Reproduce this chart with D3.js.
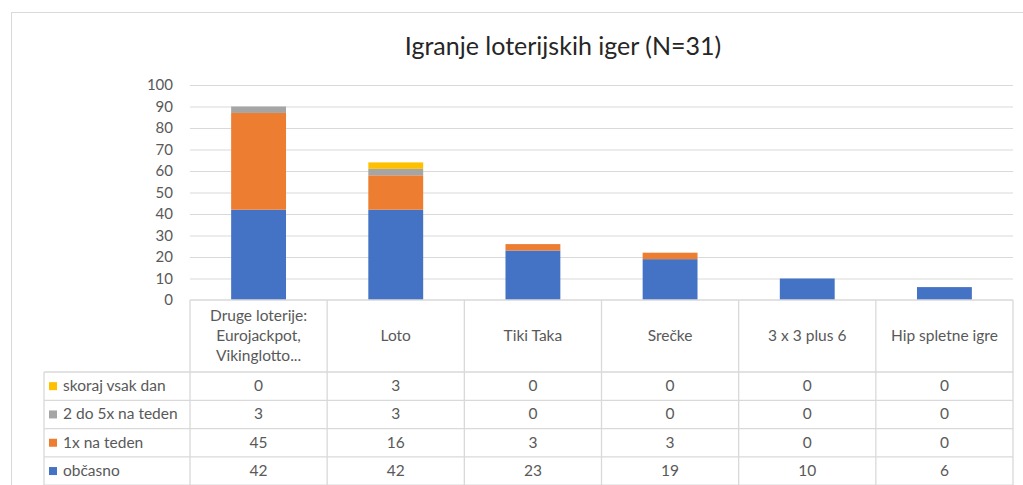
<!DOCTYPE html>
<html>
<head>
<meta charset="utf-8">
<script src="https://cdn.jsdelivr.net/npm/d3@7"></script>
<style>
  body { margin: 0; background: #fff; }
  svg text { font-family: Lato, "Open Sans", sans-serif; }
</style>
</head>
<body>
<svg id="chart"></svg>
<script>
let w = 1023;
let h = 485;

// categories (lines of the table header)
let categories = [
  ["Druge loterije:", "Eurojackpot,", "Vikinglotto..."],
  ["Loto"],
  ["Tiki Taka"],
  ["Srečke"],
  ["3 x 3 plus 6"],
  ["Hip spletne igre"]
];
let seriesNames = ["občasno", "1x na teden", "2 do 5x na teden", "skoraj vsak dan"];
let seriesColors = ["#4472C4", "#ED7D31", "#A5A5A5", "#FFC000"];
let obcasno = [42, 42, 23, 19, 10, 6];
let enkratTeden = [45, 16, 3, 3, 0, 0];
let dvaDoPet = [3, 3, 0, 0, 0, 0];
let skorajVsakDan = [0, 3, 0, 0, 0, 0];
let yTicks = [0, 10, 20, 30, 40, 50, 60, 70, 80, 90, 100];

let seriesValues = [obcasno, enkratTeden, dvaDoPet, skorajVsakDan];
let keys = categories.map((d) => d.join(" "));
let rows = keys.map((k, i) => {
  let r = { cat: k };
  seriesNames.forEach((s, j) => { r[s] = seriesValues[j][i]; });
  return r;
});

let plotLeft = 190, plotRight = 1013, plotTop = 85, plotBottom = 300;
let rowH = 28.3;
let headerBottom = 372;
let legendLeft = 44;

let svg = d3.select("#chart").attr("width", w).attr("height", h);

// outer frame
svg.append("rect")
  .attr("x", 11.5).attr("y", 12.5)
  .attr("width", w + 20).attr("height", h + 20)
  .attr("fill", "none").attr("stroke", "#d9d9d9");

svg.append("text")
  .attr("x", 563).attr("y", 55)
  .attr("text-anchor", "middle")
  .attr("font-size", 25)
  .attr("fill", "#262626")
  .text("Igranje loterijskih iger (N=31)");

let yScale = d3.scaleLinear().domain([0, 100]).range([plotBottom, plotTop]);
let colScale = d3.scaleBand().domain(keys).range([plotLeft, plotRight]);
let barScale = d3.scaleBand().domain(keys).range([plotLeft, plotRight]).paddingInner(0.6).paddingOuter(0.3);

// gridlines
svg.append("g")
  .selectAll("line")
  .data(yTicks.filter((d) => d > 0))
  .enter()
  .append("line")
  .attr("x1", plotLeft).attr("x2", plotRight)
  .attr("y1", (d) => yScale(d) + 0.5).attr("y2", (d) => yScale(d) + 0.5)
  .attr("stroke", "#d9d9d9");

let yAxis = d3.axisLeft(yScale).tickValues(yTicks).tickSize(0).tickPadding(17);
let yG = svg.append("g")
  .attr("transform", "translate(" + plotLeft + ",0)")
  .call(yAxis);
yG.select(".domain").remove();
yG.selectAll("text").attr("font-size", 15).attr("fill", "#595959").attr("font-family", "Lato, sans-serif");

// stacked bars
let stack = d3.stack().keys(seriesNames);
let stacked = stack(rows);
svg.append("g")
  .selectAll("g")
  .data(stacked)
  .enter()
  .append("g")
  .attr("fill", (d, i) => seriesColors[i])
  .selectAll("rect")
  .data((d) => d)
  .enter()
  .append("rect")
  .attr("x", (d) => barScale(d.data.cat))
  .attr("y", (d) => yScale(d[1]))
  .attr("width", barScale.bandwidth())
  .attr("height", (d) => yScale(d[0]) - yScale(d[1]));

// data table
let table = svg.append("g").attr("stroke", "#d9d9d9").attr("stroke-width", 1.3);
let rowOrder = seriesNames.slice().reverse();
let rowY = (i) => headerBottom + i * rowH;

table.append("line").attr("x1", plotLeft).attr("x2", plotRight).attr("y1", plotBottom).attr("y2", plotBottom);
for (let i = 0; i <= rowOrder.length; i++) {
  table.append("line").attr("x1", legendLeft).attr("x2", plotRight).attr("y1", rowY(i)).attr("y2", rowY(i));
}
keys.forEach((k) => {
  table.append("line").attr("x1", colScale(k)).attr("x2", colScale(k)).attr("y1", plotBottom).attr("y2", h + 5);
});
table.append("line").attr("x1", plotRight).attr("x2", plotRight).attr("y1", plotBottom).attr("y2", h + 5);
table.append("line").attr("x1", legendLeft).attr("x2", legendLeft).attr("y1", headerBottom).attr("y2", h + 5);

// header labels
let headerMid = (plotBottom + headerBottom) / 2;
categories.forEach((lines, i) => {
  let t = svg.append("text")
    .attr("x", colScale(keys[i]) + colScale.bandwidth() / 2)
    .attr("y", headerMid + 5 - (lines.length - 1) * 10)
    .attr("text-anchor", "middle")
    .attr("font-size", 15.5)
    .attr("fill", "#595959");
  lines.forEach((l, j) => {
    t.append("tspan")
      .attr("x", colScale(keys[i]) + colScale.bandwidth() / 2)
      .attr("dy", j === 0 ? 0 : 20)
      .text(l);
  });
});

// table rows
rowOrder.forEach((s, i) => {
  let si = seriesNames.indexOf(s);
  let cy = rowY(i) + rowH / 2;
  svg.append("rect")
    .attr("x", 49).attr("y", cy - 4)
    .attr("width", 8).attr("height", 8)
    .attr("fill", seriesColors[si]);
  svg.append("text")
    .attr("x", 63).attr("y", cy + 5)
    .attr("font-size", 15.5)
    .attr("fill", "#595959")
    .text(s);
  seriesValues[si].forEach((v, j) => {
    svg.append("text")
      .attr("x", colScale(keys[j]) + colScale.bandwidth() / 2)
      .attr("y", cy + 5)
      .attr("text-anchor", "middle")
      .attr("font-size", 15.5)
      .attr("fill", "#595959")
      .text(v);
  });
});
</script>
</body>
</html>
